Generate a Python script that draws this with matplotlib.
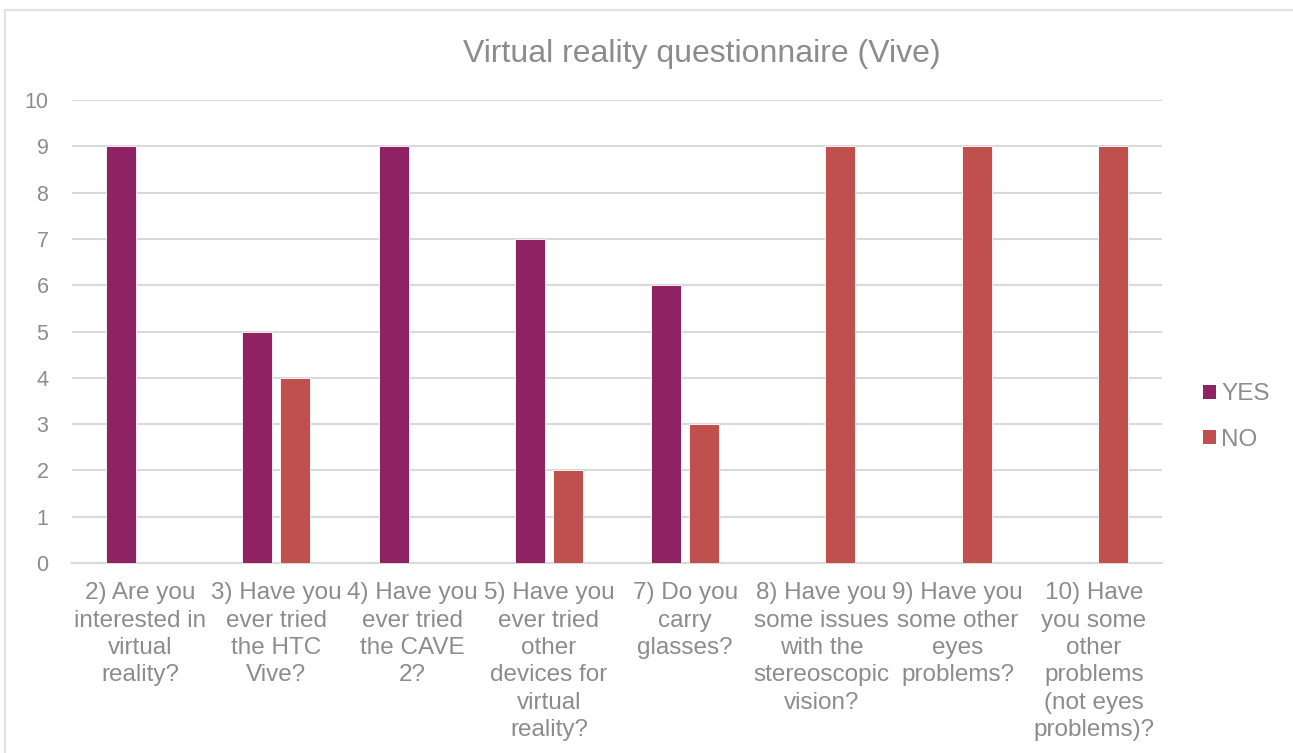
import matplotlib
matplotlib.use("Agg")
import matplotlib.pyplot as plt
from matplotlib.patches import Patch, Rectangle
import numpy as np

plt.rcParams['font.family'] = ['Liberation Sans', 'DejaVu Sans']

categories = [
    "2) Are you\ninterested in\nvirtual\nreality?",
    "3) Have you\never tried\nthe HTC\nVive?",
    "4) Have you\never tried\nthe CAVE\n2?",
    "5) Have you\never tried\nother\ndevices for\nvirtual\nreality?",
    "7) Do you\ncarry\nglasses?",
    "8) Have you\nsome issues\nwith the\nstereoscopic\nvision?",
    "9) Have you\nsome other\neyes\nproblems?",
    "10) Have\nyou some\nother\nproblems\n(not eyes\nproblems)?",
]
yes_values = [9, 5, 9, 7, 6, 0, 0, 0]
no_values = [0, 4, 0, 2, 3, 9, 9, 9]
series_names = ["YES", "NO"]
y_ticks = list(range(0, 11))

YES_COLOR = "#8E2262"
NO_COLOR = "#C0504D"
TEXT_COLOR = "#8C8C8C"
GRID_COLOR = "#D9D9D9"

W, H = 1293, 753
fig = plt.figure(figsize=(W / 100, H / 100), dpi=100)
fig.patch.set_facecolor("white")

# outer frame (left and top edges visible)
fig.add_artist(Rectangle((5 / W, -0.1), 1.2, 1 - 10 / H + 0.1,
                         transform=fig.transFigure, fill=False,
                         edgecolor="#E3E3E3", linewidth=1.5))

left, right = 72 / W, 1162 / W
bottom, top = 1 - 563 / H, 1 - 100 / H
ax = fig.add_axes([left, bottom, right - left, top - bottom])

x = np.arange(len(categories))
width = 0.22
offset = 0.14
ax.bar(x - offset, yes_values, width, color=YES_COLOR, edgecolor="white",
       linewidth=0.6, zorder=3)
ax.bar(x + offset, no_values, width, color=NO_COLOR, edgecolor="white",
       linewidth=0.6, zorder=3)

ax.set_xlim(-0.5, len(categories) - 0.5)
ax.set_ylim(0, 10)
ax.set_yticks(y_ticks)
ax.set_xticks(x)
ax.set_xticklabels(categories, fontsize=17.5, color=TEXT_COLOR,
                   linespacing=1.31, va="top", ha="center")
ax.tick_params(axis="x", length=0, pad=14)
ax.tick_params(axis="y", length=0, pad=17, labelsize=15.5, labelcolor=TEXT_COLOR)

ax.yaxis.grid(True, color=GRID_COLOR, linewidth=1.5, zorder=0)
ax.set_axisbelow(True)
for side in ["top", "right", "left"]:
    ax.spines[side].set_visible(False)
ax.spines["bottom"].set_color(GRID_COLOR)
ax.spines["bottom"].set_linewidth(1.5)

fig.text(702 / W, 1 - 54 / H,
         "Virtual reality questionnaire (Vive)",
         ha="center", va="center", fontsize=23, color=TEXT_COLOR)

handles = [Patch(facecolor=YES_COLOR, edgecolor="none"),
           Patch(facecolor=NO_COLOR, edgecolor="none")]
fig.legend(handles, series_names, loc="center left",
           bbox_to_anchor=(1181 / W, 1 - 417 / H), frameon=False,
           fontsize=17.5, labelcolor=TEXT_COLOR, handlelength=0.55,
           handleheight=0.55, handletextpad=0.2, labelspacing=0.95)

fig.savefig("out.png", dpi=100, facecolor="white")
